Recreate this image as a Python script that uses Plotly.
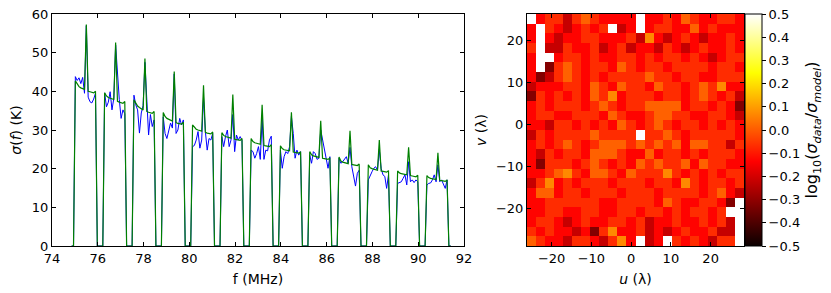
import numpy as np
import plotly.graph_objects as go

# ---------------- left panel data: sigma(f) per coarse channel ----------------
coarse_centres_mhz = [75.50, 76.78, 78.06, 79.34, 80.62, 81.90, 83.18,
                      84.46, 85.74, 87.02, 88.30, 89.58, 90.86]
# fine-channel offsets (MHz) inside a coarse channel
fine_offsets_mhz = [-0.64, -0.56, -0.48, -0.40, -0.32, -0.24, -0.16, -0.08,
                    0.00, 0.08, 0.16, 0.24, 0.32, 0.40, 0.48, 0.56]
lead_flagged = 2   # flagged (zero) fine channels at start of each coarse channel
tail_flagged = 2   # flagged (zero) fine channels at end
flagged_level = 0.0

# model sigma (green), valid fine channels only
sigma_model = [
    [42.7, 41.8, 41.2, 40.9, 40.7, 40.5, 57.3, 40.0, 39.9, 39.7, 39.6, 40.0],
    [39.6, 38.8, 38.4, 38.2, 38.0, 37.9, 52.6, 37.4, 37.2, 37.0, 36.9, 37.4],
    [37.8, 36.8, 36.2, 35.8, 35.5, 35.2, 48.5, 34.8, 34.6, 34.4, 34.3, 34.8],
    [34.5, 33.5, 33.0, 32.7, 32.5, 32.3, 45.1, 31.9, 31.7, 31.6, 31.5, 32.0],
    [31.3, 30.6, 30.2, 30.0, 29.8, 29.7, 41.6, 29.4, 29.2, 29.1, 29.0, 29.5],
    [29.3, 28.6, 28.3, 28.1, 28.0, 27.9, 39.2, 27.6, 27.5, 27.4, 27.3, 27.8],
    [27.8, 27.0, 26.7, 26.5, 26.4, 26.3, 36.5, 26.0, 25.9, 25.8, 25.7, 26.2],
    [25.9, 25.2, 24.9, 24.8, 24.7, 24.6, 34.6, 24.3, 24.2, 24.1, 24.0, 24.4],
    [24.4, 23.6, 23.3, 23.1, 23.0, 22.9, 32.4, 22.7, 22.6, 22.5, 22.4, 22.8],
    [23.0, 22.0, 21.7, 21.5, 21.4, 21.3, 29.8, 21.1, 21.0, 20.9, 20.8, 21.2],
    [21.0, 20.2, 20.0, 19.8, 19.7, 19.6, 27.4, 19.4, 19.3, 19.2, 19.1, 19.5],
    [19.4, 18.9, 18.7, 18.6, 18.5, 18.4, 25.5, 18.2, 18.1, 18.0, 17.9, 18.3],
    [18.2, 17.7, 17.5, 17.4, 17.3, 17.2, 24.1, 17.0, 16.9, 16.8, 16.7, 17.1],
]
# measured sigma (blue), valid fine channels only
sigma_data = [
    [43.8, 42.8, 43.5, 42.0, 43.6, 39.5, 57.0, 38.5, 37.3, 37.0, 38.0, 39.5],
    [39.6, 36.0, 37.2, 39.9, 35.2, 38.2, 52.0, 43.5, 37.9, 33.0, 35.2, 34.2],
    [39.0, 36.5, 35.2, 29.2, 34.4, 36.3, 47.5, 36.5, 28.7, 34.0, 30.9, 32.6],
    [33.4, 29.1, 27.8, 29.6, 31.8, 30.5, 44.5, 29.1, 30.0, 33.0, 31.3, 32.6],
    [25.7, 26.0, 27.4, 29.6, 25.3, 27.4, 38.5, 29.6, 24.8, 27.8, 27.4, 29.1],
    [28.3, 25.7, 28.3, 30.0, 25.7, 27.4, 34.0, 24.4, 28.7, 27.4, 28.3, 27.4],
    [24.8, 24.4, 22.7, 23.9, 25.7, 22.4, 33.0, 22.4, 24.8, 24.6, 27.4, 28.4],
    [24.8, 20.1, 23.1, 24.4, 23.9, 25.7, 33.5, 29.1, 22.7, 24.8, 23.5, 24.4],
    [23.5, 21.4, 24.4, 23.9, 22.4, 22.7, 30.0, 27.4, 24.4, 22.7, 20.1, 23.1],
    [22.7, 21.4, 21.8, 22.4, 23.1, 21.4, 25.5, 20.5, 17.9, 15.5, 18.8, 19.6],
    [17.1, 18.4, 19.2, 20.1, 20.5, 19.6, 25.0, 20.1, 18.4, 18.0, 14.9, 18.4],
    [16.2, 16.4, 16.6, 17.5, 18.4, 15.8, 21.8, 16.6, 17.1, 16.4, 17.1, 16.6],
    [15.8, 16.2, 16.3, 17.1, 18.4, 16.6, 21.0, 16.6, 17.1, 16.2, 14.9, 17.1],
]

# ---------------- right panel data: log10(sigma_data/sigma_model) on uv grid ----
u_range = [-26.2, 28.4]
v_range = [-28.8, 26.2]
n_cells = 24
u_cells = np.linspace(-25.06, 27.26, n_cells)
v_cells = np.linspace(25.05, -27.65, n_cells)   # top row first
N = None
log_ratio = [
    [N,-.13,-.07,-.07,-.22,-.07,.01,-.07,-.13,-.13,-.13,-.13,N,-.13,-.13,-.07,-.13,.01,-.07,-.13,-.13,-.07,-.07,-.13],
    [-.13,N,-.07,-.13,-.22,-.13,-.07,-.13,-.07,N,-.22,-.13,N,-.13,-.07,-.07,-.13,-.13,.01,-.13,-.07,-.13,-.13,-.13],
    [-.13,N,-.13,-.22,-.13,-.13,-.07,-.07,-.13,-.13,-.13,-.07,-.22,.07,-.13,-.22,-.13,-.07,-.13,-.22,-.13,-.13,-.07,-.13],
    [-.07,N,-.22,-.22,-.07,-.13,-.13,-.07,-.22,-.13,-.07,-.22,-.13,-.13,-.22,-.07,-.13,-.22,-.13,-.07,-.13,-.13,-.07,-.13],
    [-.13,N,N,-.13,-.07,-.07,-.13,-.07,-.13,-.13,-.07,-.07,-.13,-.07,-.13,-.07,-.07,-.13,-.07,-.13,-.22,-.13,-.07,-.07],
    [-.13,N,-.32,-.07,.01,-.07,-.13,-.07,-.07,-.13,.01,-.07,-.13,-.07,-.07,-.13,-.07,-.07,-.07,-.07,-.13,-.07,-.07,-.13],
    [-.13,-.32,-.22,-.07,.01,-.07,-.13,-.07,-.13,-.07,-.07,-.07,-.07,.01,-.07,-.07,-.13,-.07,-.07,-.13,-.13,-.07,-.07,-.07],
    [-.22,-.13,-.13,-.13,-.07,-.07,-.13,.01,-.07,-.13,.01,-.07,-.07,-.13,.01,-.07,-.07,-.13,-.07,.01,-.07,.07,-.13,-.13],
    [-.32,-.07,-.13,-.07,-.13,-.07,-.13,.01,-.07,.07,-.13,-.07,-.07,-.07,-.13,-.07,-.07,-.13,-.07,.01,-.07,-.13,-.07,-.22],
    [-.13,-.07,-.13,-.07,-.07,-.07,-.13,-.07,.01,-.07,-.13,-.07,-.07,.01,.01,.01,.01,-.13,-.07,-.07,-.13,-.07,-.13,-.32],
    [-.13,-.07,-.07,-.13,-.13,-.07,-.07,-.07,-.13,.01,-.07,-.13,-.13,-.07,.01,.01,-.07,-.07,-.13,-.13,-.07,-.07,-.13,-.22],
    [-.13,-.13,-.22,-.07,-.07,-.13,-.07,-.13,-.07,-.13,.01,-.07,-.13,-.07,.01,-.07,-.13,-.07,-.07,-.13,-.07,-.13,-.07,-.13],
    [-.22,-.07,-.13,-.07,-.07,-.07,-.07,.01,-.07,-.07,-.07,-.07,N,-.07,-.07,.01,-.07,-.13,-.07,-.07,-.07,-.07,-.07,-.13],
    [-.13,-.07,-.13,-.07,.01,-.07,-.13,-.07,.01,.01,.01,-.07,.01,-.07,.01,-.07,.01,-.13,.01,.01,-.07,-.07,-.22,-.07],
    [-.13,-.22,-.07,-.13,-.07,-.07,-.13,.01,.01,.01,-.07,-.13,-.13,.01,-.13,-.07,-.07,-.13,-.07,-.13,-.07,-.07,-.07,-.13],
    [-.13,-.32,-.07,-.07,-.07,-.13,-.07,.01,-.07,-.13,-.07,-.13,.01,-.07,.01,-.07,-.07,.01,-.13,.01,-.07,-.07,-.13,-.13],
    [-.13,-.13,-.07,.01,.07,-.07,-.13,.01,.01,-.07,-.13,.01,-.07,-.07,-.07,.07,-.07,-.13,-.07,-.13,-.07,-.13,-.07,-.07],
    [-.22,-.07,.07,-.13,-.07,-.13,-.07,-.07,-.07,-.13,-.07,-.07,-.07,-.13,-.07,-.07,-.13,.07,-.07,-.13,-.07,-.07,-.13,-.07],
    [-.13,.01,.01,-.13,-.07,-.07,-.13,-.07,-.07,-.07,-.13,-.07,-.07,-.07,-.13,-.07,-.07,-.07,-.07,-.13,-.07,.01,-.13,-.22],
    [-.13,-.13,-.07,-.07,-.07,-.07,-.07,-.07,-.13,-.13,-.07,-.07,-.07,-.07,-.13,.01,-.07,-.13,-.13,-.07,-.07,-.13,-.32,N],
    [-.13,-.13,-.07,-.07,-.13,-.13,-.07,-.07,-.13,-.13,-.07,-.07,-.13,-.07,-.07,-.13,-.07,-.13,-.07,-.07,-.13,-.07,N,N],
    [-.13,-.07,-.07,-.13,-.22,-.13,-.07,-.13,-.13,-.07,-.07,-.13,-.07,-.22,-.13,-.13,-.07,-.13,-.13,-.07,-.13,-.07,-.22,N],
    [-.07,-.13,-.07,-.13,-.13,-.22,-.13,-.32,-.07,.07,-.13,-.13,-.07,-.22,-.13,-.22,-.13,-.07,-.13,-.13,-.07,-.22,-.22,N],
    [.01,-.07,-.13,-.13,-.22,-.07,-.07,-.13,-.22,-.07,.07,-.13,N,-.22,-.13,N,-.07,-.13,-.07,-.13,-.22,-.07,-.07,N],
]
cbar_ticks = [0.5, 0.4, 0.3, 0.2, 0.1, 0.0, -0.1, -0.2, -0.3, -0.4, -0.5]

# ---------------- assemble spectra ----------------
freq, model, data = [], [], []
for k, c in enumerate(coarse_centres_mhz):
    for off in fine_offsets_mhz:
        freq.append(c + off)
    model += [flagged_level] * lead_flagged + sigma_model[k] + [flagged_level] * tail_flagged
    data += [flagged_level] * lead_flagged + sigma_data[k] + [flagged_level] * tail_flagged

# page body has an 8px margin: size the figure to fit and shift targets
PAGE_W, PAGE_H, BODY = 831, 293, 8
W, H = PAGE_W - BODY, PAGE_H - BODY
def px_x(a, b):
    return [(a - BODY) / W, (b - BODY) / W]
def px_y(top, bottom):
    return [1 - (bottom - BODY) / H, 1 - (top - BODY) / H]

FONT = "DejaVu Sans"
hot = [[0.0, "rgb(10,0,0)"], [0.365, "rgb(255,0,0)"],
       [0.746, "rgb(255,255,0)"], [1.0, "rgb(255,255,255)"]]

fig = go.Figure()
fig.add_trace(go.Scatter(x=freq, y=data, mode="lines",
                         line=dict(color="#0000ff", width=1), showlegend=False,
                         xaxis="x", yaxis="y"))
fig.add_trace(go.Scatter(x=freq, y=model, mode="lines",
                         line=dict(color="#008000", width=1.2), showlegend=False,
                         xaxis="x", yaxis="y"))
ydom = px_y(14, 246)
fig.add_trace(go.Heatmap(
    z=log_ratio, x=u_cells, y=v_cells, colorscale=hot, zmin=-0.5, zmax=0.5,
    xaxis="x2", yaxis="y2", hoverongaps=False,
    colorbar=dict(
        x=(745 - BODY) / W, xanchor="left", xpad=0, ypad=0,
        y=(ydom[0] + ydom[1]) / 2, yanchor="middle", len=ydom[1] - ydom[0],
        lenmode="fraction", thickness=17, thicknessmode="pixels",
        outlinecolor="black", outlinewidth=1,
        tickvals=cbar_ticks, tickformat=".1f", ticks="outside", ticklen=4,
        ticklabeloverflow="allow",
        tickcolor="black", tickfont=dict(family=FONT, size=13, color="black"),
        title=dict(text="log<sub>10</sub>(<i>σ<sub>data</sub></i>/<i>σ<sub>model</sub></i>)",
                   side="right", font=dict(family=FONT, size=16, color="black")),
    ),
))

axis_common = dict(showline=True, linecolor="black", linewidth=1, mirror="ticks",
                   ticks="inside", ticklen=4, tickcolor="black", showgrid=False,
                   zeroline=False, automargin=False, ticklabeloverflow="allow",
                   tickfont=dict(family=FONT, size=13, color="black"))

fig.update_layout(
    width=W, height=H, margin=dict(l=0, r=0, t=0, b=0),
    paper_bgcolor="white", plot_bgcolor="white",
    font=dict(family=FONT, size=13, color="black"),
    xaxis=dict(domain=px_x(52, 464), range=[74, 92], tickvals=list(range(74, 93, 2)),
               title=dict(text="f (MHz)", standoff=9, font=dict(family=FONT, size=14)),
               anchor="y", **axis_common),
    yaxis=dict(domain=ydom, range=[0, 60], tickvals=list(range(0, 61, 10)),
               title=dict(text="<i>σ</i>(<i>f</i>) (K)", standoff=8, font=dict(family=FONT, size=14)),
               anchor="x", **axis_common),
    xaxis2=dict(domain=px_x(527, 744), range=u_range, tickvals=[-20, -10, 0, 10, 20],
                title=dict(text="<i>u</i> (λ)", standoff=9, font=dict(family=FONT, size=14)),
                anchor="y2", **axis_common),
    yaxis2=dict(domain=ydom, range=v_range, tickvals=[-20, -10, 0, 10, 20],
                title=dict(text="<i>v</i> (λ)", standoff=6, font=dict(family=FONT, size=14)),
                anchor="x2", **axis_common),
)

fig.write_html("out.html")
